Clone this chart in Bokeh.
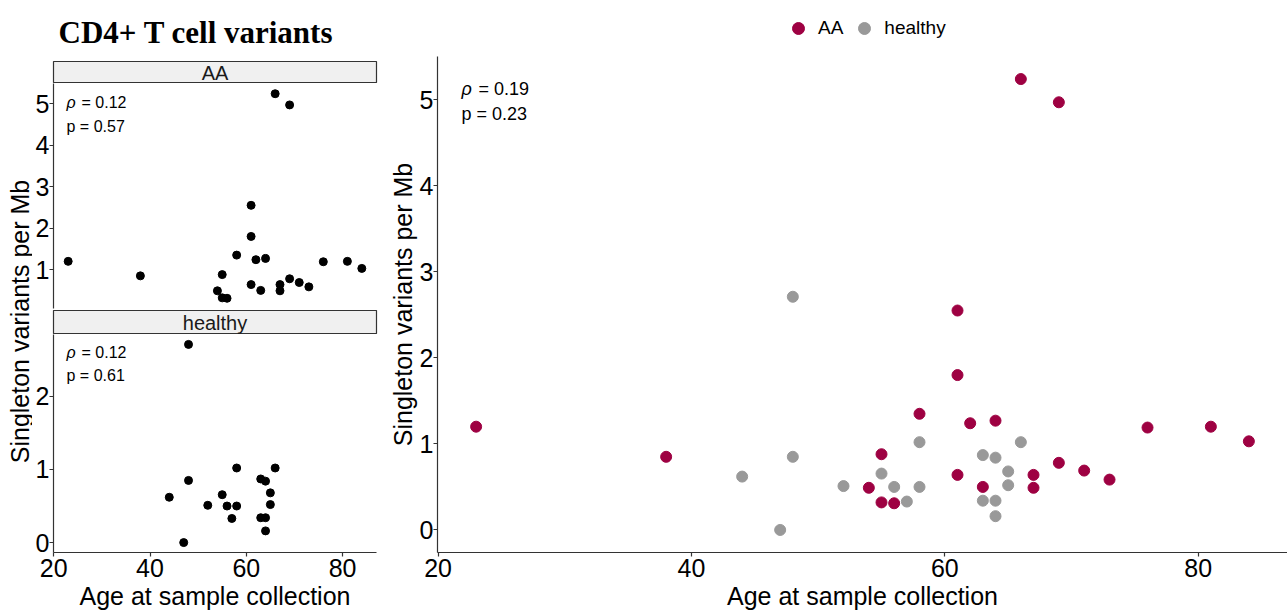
import math
from bokeh.plotting import figure
from bokeh.layouts import row, column
from bokeh.models import Range1d, FixedTicker, Label, Legend, LegendItem
from bokeh.embed import file_html
from bokeh.resources import INLINE
from bokeh.core.properties import value

# ---------------- data ----------------
aa_age = [23, 38, 54, 55, 55, 56, 58, 61, 61, 61, 62, 63, 64, 66, 67, 67, 69, 69, 71, 73, 76, 81, 84]
aa_rate = [1.20, 0.85, 0.49, 0.88, 0.32, 0.31, 1.35, 2.55, 1.80, 0.64, 1.24, 0.50, 1.27, 5.24,
           0.64, 0.49, 4.97, 0.78, 0.69, 0.585, 1.19, 1.20, 1.03]
healthy_age = [44, 47, 48, 48, 52, 55, 56, 57, 58, 58, 63, 63, 64, 64, 64, 65, 65, 66]
healthy_rate = [0.62, 0.0, 2.71, 0.85, 0.51, 0.655, 0.50, 0.33, 1.02, 0.50, 0.87, 0.34, 0.84,
                0.34, 0.16, 0.68, 0.52, 1.02]
groups = ["AA", "healthy"]
group_colors = ["#9E0142", "#999999"]
stats_all = ("0.19", "0.23")
stats_aa = ("0.12", "0.57")
stats_healthy = ("0.12", "0.61")
x_ticks = [20, 40, 60, 80]
aa_yticks = [1, 2, 3, 4, 5]
healthy_yticks = [0, 1, 2]
all_yticks = [0, 1, 2, 3, 4, 5]
title_text = "CD4+ T cell variants"
x_title = "Age at sample collection"
y_title = "Singleton variants per Mb"

FONT = "Liberation Sans"
AXIS_COL = "#333333"


def expand(vals, frac=0.05):
    lo, hi = min(vals), max(vals)
    d = (hi - lo) * frac
    return lo - d, hi + d


x_lo, x_hi = expand(aa_age + healthy_age)
aa_lo, aa_hi = expand(aa_rate)
h_lo, h_hi = expand(healthy_rate)
all_lo, all_hi = expand(aa_rate + healthy_rate)

YLAB_W = 32
PANEL_L = 21
PANEL_FRAME_W = 323
PANEL_R = 9
LEFT_W = PANEL_L + PANEL_FRAME_W + PANEL_R
RIGHT_W = 1287 - YLAB_W - LEFT_W
RIGHT_L = 51
RIGHT_TOP = 56
RIGHT_BOTTOM = 60


def style_axis(ax, size="25px", standoff=0):
    ax.axis_line_color = AXIS_COL
    ax.axis_line_width = 1.2
    ax.major_tick_line_color = AXIS_COL
    ax.major_tick_line_width = 1.2
    ax.major_tick_in = 0
    ax.major_tick_out = 4
    ax.minor_tick_line_color = None
    ax.major_label_text_font = FONT
    ax.major_label_text_font_size = size
    ax.major_label_text_color = "black"
    ax.major_label_standoff = standoff
    ax.axis_label_text_font = FONT
    ax.axis_label_text_font_size = "25px"
    ax.axis_label_text_font_style = "normal"
    ax.axis_label_text_color = "black"


def add_stats(p, xs, ytop, rho, pval, dx, dy1, dy2, size, eq_dx):
    p.add_layout(Label(x=xs, y=ytop, x_offset=dx, y_offset=dy1, text="ρ",
                       text_font=FONT, text_font_size=size, text_font_style="italic",
                       text_baseline="middle", text_color="black"))
    p.add_layout(Label(x=xs, y=ytop, x_offset=dx + eq_dx, y_offset=dy1, text="= " + rho,
                       text_font=FONT, text_font_size=size,
                       text_baseline="middle", text_color="black"))
    p.add_layout(Label(x=xs, y=ytop, x_offset=dx, y_offset=dy2, text="p = " + pval,
                       text_font=FONT, text_font_size=size,
                       text_baseline="middle", text_color="black"))


def strip(label, height, top=0):
    s = figure(width=LEFT_W, height=height, x_range=Range1d(0, 1), y_range=Range1d(0, 1),
               x_axis_location=None, y_axis_location=None, toolbar_location=None,
               output_backend="svg", min_border_left=PANEL_L, min_border_right=PANEL_R,
               min_border_top=top, min_border_bottom=0,
               background_fill_color="#F0F0F0", outline_line_color=AXIS_COL,
               outline_line_width=1.2, tools="")
    s.grid.visible = False
    s.text(x=[0.5], y=[0.5], text=[label], text_align="center", text_baseline="middle",
           text_font=value(FONT), text_font_size="20px", text_color="#1a1a1a")
    return s


# ---------------- y label column ----------------
ylab = figure(width=YLAB_W, height=612, x_range=Range1d(0, YLAB_W), y_range=Range1d(0, 612),
              x_axis_location=None, y_axis_location=None, toolbar_location=None,
              output_backend="svg", min_border=0, outline_line_color=None, tools="")
ylab.grid.visible = False
ylab.text(x=[19], y=[291], text=[y_title], angle=math.pi / 2, text_align="center",
          text_baseline="middle", text_font=value(FONT), text_font_size="25px",
          text_color="black")

# ---------------- AA facet ----------------
s_aa = strip("AA", 83, top=59)
s_aa.title.text = title_text
s_aa.title.text_font = "Liberation Serif"
s_aa.title.text_font_style = "bold"
s_aa.title.text_font_size = "31px"
s_aa.title.text_color = "black"
s_aa.title.align = "left"
s_aa.title.offset = 5
s_aa.title.standoff = 24

p_aa = figure(width=LEFT_W, height=227, x_range=Range1d(x_lo, x_hi), y_range=Range1d(aa_lo, aa_hi),
              x_axis_location=None, toolbar_location=None, output_backend="svg",
              min_border_left=PANEL_L, min_border_right=PANEL_R, min_border_top=0,
              min_border_bottom=2, outline_line_color=None, tools="")
p_aa.grid.visible = False
style_axis(p_aa.yaxis[0])
p_aa.yaxis.ticker = FixedTicker(ticks=aa_yticks)
p_aa.scatter(aa_age, aa_rate, size=8, color="black")
add_stats(p_aa, x_lo, aa_hi, stats_aa[0], stats_aa[1], 13, -19, -43, "16px", 15)

# ---------------- healthy facet ----------------
s_h = strip("healthy", 24)
p_h = figure(width=LEFT_W, height=278, x_range=Range1d(x_lo, x_hi), y_range=Range1d(h_lo, h_hi),
             toolbar_location=None, output_backend="svg",
             min_border_left=PANEL_L, min_border_right=PANEL_R, min_border_top=0,
             min_border_bottom=55, outline_line_color=None, tools="")
p_h.grid.visible = False
style_axis(p_h.yaxis[0])
style_axis(p_h.xaxis[0], standoff=2)
p_h.yaxis.ticker = FixedTicker(ticks=healthy_yticks)
p_h.xaxis.ticker = FixedTicker(ticks=x_ticks)
p_h.xaxis.axis_label = x_title
p_h.xaxis.axis_label_standoff = 2
p_h.scatter(healthy_age, healthy_rate, size=8, color="black")
add_stats(p_h, x_lo, h_hi, stats_healthy[0], stats_healthy[1], 13, -18, -41, "16px", 15)

left = row(ylab, column(s_aa, p_aa, s_h, p_h, spacing=0), spacing=0)

# ---------------- legend header ----------------
head = figure(width=RIGHT_W, height=RIGHT_TOP, x_range=Range1d(0, 1), y_range=Range1d(0, 1),
              x_axis_location=None, y_axis_location=None, toolbar_location=None,
              output_backend="svg", min_border_left=RIGHT_L, min_border_right=0,
              min_border_top=0, min_border_bottom=0, outline_line_color=None, tools="")
head.grid.visible = False
# legend key renderers: the group data, which falls outside this header's (0..1) ranges
lg_aa = head.scatter(aa_age, aa_rate, size=11, color=group_colors[0])
lg_h = head.scatter(healthy_age, healthy_rate, size=11, color=group_colors[1])
legend = Legend(items=[LegendItem(label=groups[0], renderers=[lg_aa]),
                       LegendItem(label=groups[1], renderers=[lg_h])],
                orientation="horizontal", location=(346, 13),
                label_text_font=FONT, label_text_font_size="19px", label_text_color="black",
                glyph_width=30, glyph_height=30, label_standoff=5, spacing=6,
                border_line_color=None, background_fill_alpha=0, padding=0, margin=0)
head.add_layout(legend, "center")

# ---------------- combined panel ----------------
p = figure(width=RIGHT_W, height=612 - RIGHT_TOP, x_range=Range1d(x_lo, x_hi),
           y_range=Range1d(all_lo, all_hi),
           toolbar_location=None, output_backend="svg", min_border_left=RIGHT_L,
           min_border_right=0, min_border_top=0, min_border_bottom=RIGHT_BOTTOM,
           outline_line_color=None, tools="")
p.grid.visible = False
style_axis(p.xaxis[0], standoff=2)
style_axis(p.yaxis[0])
p.xaxis.ticker = FixedTicker(ticks=x_ticks)
p.yaxis.ticker = FixedTicker(ticks=all_yticks)
p.xaxis.axis_label = x_title
p.yaxis.axis_label = y_title
p.xaxis.axis_label_standoff = 2
p.yaxis.axis_label_standoff = 0
p.scatter(healthy_age, healthy_rate, size=11, color=group_colors[1])
p.scatter(aa_age, aa_rate, size=11, color=group_colors[0])
add_stats(p, x_lo, all_hi, stats_all[0], stats_all[1], 24, -32, -57, "18px", 17)

right = column(head, p, spacing=0)

layout = row(left, right, spacing=0)

with open("out.html", "w") as f:
    f.write(file_html(layout, INLINE))
